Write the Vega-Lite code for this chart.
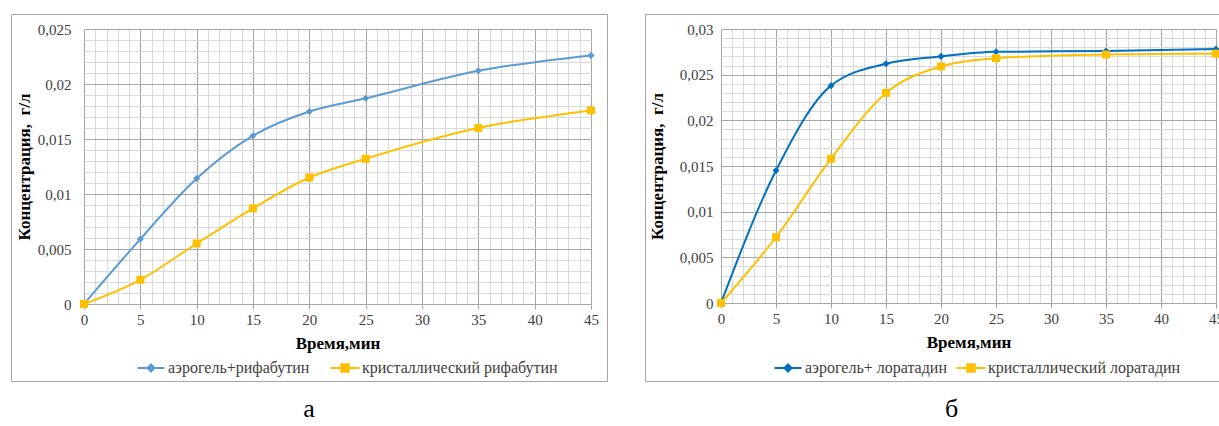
{
  "$schema": "https://vega.github.io/schema/vega-lite/v6.json",
  "padding": {"left": 10, "top": 13, "right": 0, "bottom": 0},
  "background": "white",
  "spacing": 36,
  "resolve": {"scale": {"color": "independent"}, "legend": {"color": "independent"}},
  "datasets": {
    "rif": [
      {"s": "аэрогель+рифабутин", "t": 0, "c": 0},
      {"s": "аэрогель+рифабутин", "t": 5, "c": 0.0059},
      {"s": "аэрогель+рифабутин", "t": 10, "c": 0.0114},
      {"s": "аэрогель+рифабутин", "t": 15, "c": 0.0153},
      {"s": "аэрогель+рифабутин", "t": 20, "c": 0.0175},
      {"s": "аэрогель+рифабутин", "t": 25, "c": 0.0187},
      {"s": "аэрогель+рифабутин", "t": 35, "c": 0.0212},
      {"s": "аэрогель+рифабутин", "t": 45, "c": 0.0226},
      {"s": "кристаллический рифабутин", "t": 0, "c": 0},
      {"s": "кристаллический рифабутин", "t": 5, "c": 0.0022},
      {"s": "кристаллический рифабутин", "t": 10, "c": 0.0055},
      {"s": "кристаллический рифабутин", "t": 15, "c": 0.0087},
      {"s": "кристаллический рифабутин", "t": 20, "c": 0.0115},
      {"s": "кристаллический рифабутин", "t": 25, "c": 0.0132},
      {"s": "кристаллический рифабутин", "t": 35, "c": 0.016},
      {"s": "кристаллический рифабутин", "t": 45, "c": 0.0176}
    ],
    "lor": [
      {"s": "аэрогель+ лоратадин", "t": 0, "c": 0},
      {"s": "аэрогель+ лоратадин", "t": 5, "c": 0.0145},
      {"s": "аэрогель+ лоратадин", "t": 10, "c": 0.0238},
      {"s": "аэрогель+ лоратадин", "t": 15, "c": 0.0262},
      {"s": "аэрогель+ лоратадин", "t": 20, "c": 0.027},
      {"s": "аэрогель+ лоратадин", "t": 25, "c": 0.0275},
      {"s": "аэрогель+ лоратадин", "t": 35, "c": 0.0276},
      {"s": "аэрогель+ лоратадин", "t": 45, "c": 0.0278},
      {"s": "кристаллический лоратадин", "t": 0, "c": 0},
      {"s": "кристаллический лоратадин", "t": 5, "c": 0.0072},
      {"s": "кристаллический лоратадин", "t": 10, "c": 0.0158},
      {"s": "кристаллический лоратадин", "t": 15, "c": 0.023},
      {"s": "кристаллический лоратадин", "t": 20, "c": 0.0259},
      {"s": "кристаллический лоратадин", "t": 25, "c": 0.0268},
      {"s": "кристаллический лоратадин", "t": 35, "c": 0.0272},
      {"s": "кристаллический лоратадин", "t": 45, "c": 0.0273}
    ]
  },
  "config": {
    "view": {"stroke": "#a6a6a6", "strokeWidth": 1, "fill": "white"},
    "font": "Liberation Serif",
    "axis": {
      "labelFont": "Liberation Serif",
      "titleFont": "Liberation Serif",
      "labelColor": "#404040",
      "labelFontSize": 15,
      "titleColor": "#000000",
      "titleFontSize": 17,
      "titleFontWeight": "bold",
      "labelFlush": false,
      "labelOverlap": false
    },
    "legend": {
      "orient": "none",
      "direction": "horizontal",
      "columns": 2,
      "title": null,
      "labelFont": "Liberation Serif",
      "labelFontSize": 16,
      "labelColor": "#404040",
      "labelOffset": 9,
      "labelLimit": 400,
      "symbolSize": 100,
      "symbolStrokeWidth": 2,
      "symbolOpacity": 1
    },
    "title": {
      "orient": "bottom",
      "offset": 15,
      "font": "Liberation Serif",
      "fontSize": 26,
      "fontWeight": "normal",
      "color": "#000000",
      "anchor": "middle"
    }
  },
  "hconcat": [
    {
      "width": 596,
      "height": 367,
      "title": {"text": "а"},
      "data": {"name": "rif"},
      "resolve": {"axis": {"x": "independent", "y": "independent"}},
      "layer": [
        {
          "mark": {"type": "line", "interpolate": "monotone", "strokeWidth": 2},
          "encoding": {
            "x": {
              "field": "t", "type": "quantitative",
              "scale": {"domain": [0, 45], "range": [73, 580], "nice": false, "zero": false},
              "axis": {
                "orient": "top", "offset": 0, "title": null,
                "values": [0,1,2,3,4,5,6,7,8,9,10,11,12,13,14,15,16,17,18,19,20,21,22,23,24,25,26,27,28,29,30,31,32,33,34,35,36,37,38,39,40,41,42,43,44,45],
                "grid": true, "labels": false, "ticks": false, "domain": false,
                "gridColor": {"condition": {"test": "datum.value % 5 === 0", "value": "#a6a6a6"}, "value": "#d9d9d9"},
                "gridWidth": 1
              }
            },
            "y": {
              "field": "c", "type": "quantitative",
              "scale": {"domain": [0, 0.025], "range": [290, 15], "nice": false},
              "axis": {
                "orient": "left", "offset": 0, "title": null,
                "values": [0,0.001,0.002,0.003,0.004,0.005,0.006,0.007,0.008,0.009,0.01,0.011,0.012,0.013,0.014,0.015,0.016,0.017,0.018,0.019,0.02,0.021,0.022,0.023,0.024,0.025],
                "grid": true, "labels": false, "ticks": false, "domain": false,
                "gridColor": {"condition": {"test": "round(datum.value * 1000) % 5 === 0", "value": "#a6a6a6"}, "value": "#d9d9d9"},
                "gridWidth": 1
              }
            },
            "color": {
              "field": "s", "type": "nominal",
              "scale": {"domain": ["аэрогель+рифабутин", "кристаллический рифабутин"], "range": ["#5b9bd5", "#ffc000"]},
              "legend": {
                "legendX": 132, "legendY": 346, "columnPadding": 16,
                "encode": {"symbols": {"update": {
                  "shape": {"signal": "datum.index === 0 ? 'M-2.7,0H2.7M0,-0.7L0.7,0L0,0.7L-0.7,0Z' : 'M-2.9,0H2.9M-0.75,-0.75H0.75V0.75H-0.75Z'"},
                  "fill": {"scale": "color", "field": "value"},
                  "stroke": {"scale": "color", "field": "value"}
                }}}
              }
            }
          }
        },
        {
          "transform": [{"filter": "datum.s === 'аэрогель+рифабутин'"}],
          "mark": {"type": "point", "shape": "diamond", "filled": true, "opacity": 1, "size": 50},
          "encoding": {
            "x": {
              "field": "t", "type": "quantitative",
              "axis": {
                "orient": "bottom", "offset": -77,
                "values": [0,5,10,15,20,25,30,35,40,45],
                "grid": false, "domain": true, "domainColor": "#a6a6a6",
                "ticks": true, "tickColor": "#a6a6a6", "tickSize": 5,
                "labelPadding": 3,
                "title": "Время,мин", "titlePadding": 8
              }
            },
            "y": {
              "field": "c", "type": "quantitative",
              "axis": {
                "orient": "left", "offset": -73,
                "values": [0, 0.005, 0.01, 0.015, 0.02, 0.025],
                "grid": false, "domain": false, "ticks": false,
                "labelPadding": 13,
                "labelExpr": "replace(toString(datum.value), '.', ',')",
                "title": "Концентрация,\u00a0 г/л", "titlePadding": 4
              }
            },
            "color": {
              "field": "s", "type": "nominal",
              "legend": {
                "legendX": 132, "legendY": 346, "columnPadding": 16,
                "encode": {"symbols": {"update": {
                  "shape": {"signal": "datum.index === 0 ? 'M-2.7,0H2.7M0,-0.7L0.7,0L0,0.7L-0.7,0Z' : 'M-2.9,0H2.9M-0.75,-0.75H0.75V0.75H-0.75Z'"},
                  "fill": {"scale": "color", "field": "value"},
                  "stroke": {"scale": "color", "field": "value"}
                }}}
              }
            }
          }
        },
        {
          "transform": [{"filter": "datum.s === 'кристаллический рифабутин'"}],
          "mark": {"type": "point", "shape": "square", "filled": true, "opacity": 1, "size": 64},
          "encoding": {
            "x": {"field": "t", "type": "quantitative", "axis": null},
            "y": {"field": "c", "type": "quantitative", "axis": null},
            "color": {
              "field": "s", "type": "nominal",
              "legend": {
                "legendX": 132, "legendY": 346, "columnPadding": 16,
                "encode": {"symbols": {"update": {
                  "shape": {"signal": "datum.index === 0 ? 'M-2.7,0H2.7M0,-0.7L0.7,0L0,0.7L-0.7,0Z' : 'M-2.9,0H2.9M-0.75,-0.75H0.75V0.75H-0.75Z'"},
                  "fill": {"scale": "color", "field": "value"},
                  "stroke": {"scale": "color", "field": "value"}
                }}}
              }
            }
          }
        }
      ]
    },
    {
      "width": 577,
      "height": 367,
      "title": {"text": "б", "dx": 18},
      "data": {"name": "lor"},
      "resolve": {"axis": {"x": "independent", "y": "independent"}},
      "layer": [
        {
          "mark": {"type": "line", "interpolate": "monotone", "strokeWidth": 2},
          "encoding": {
            "x": {
              "field": "t", "type": "quantitative",
              "scale": {"domain": [0, 45], "range": [76, 571], "nice": false, "zero": false},
              "axis": {
                "orient": "top", "offset": 0, "title": null,
                "values": [0,1,2,3,4,5,6,7,8,9,10,11,12,13,14,15,16,17,18,19,20,21,22,23,24,25,26,27,28,29,30,31,32,33,34,35,36,37,38,39,40,41,42,43,44,45],
                "grid": true, "labels": false, "ticks": false, "domain": false,
                "gridColor": {"condition": {"test": "datum.value % 5 === 0", "value": "#a6a6a6"}, "value": "#d9d9d9"},
                "gridWidth": 1
              }
            },
            "y": {
              "field": "c", "type": "quantitative",
              "scale": {"domain": [0, 0.03], "range": [289, 15], "nice": false},
              "axis": {
                "orient": "left", "offset": 0, "title": null,
                "values": [0,0.001,0.002,0.003,0.004,0.005,0.006,0.007,0.008,0.009,0.01,0.011,0.012,0.013,0.014,0.015,0.016,0.017,0.018,0.019,0.02,0.021,0.022,0.023,0.024,0.025,0.026,0.027,0.028,0.029,0.03],
                "grid": true, "labels": false, "ticks": false, "domain": false,
                "gridColor": {"condition": {"test": "round(datum.value * 1000) % 5 === 0", "value": "#a6a6a6"}, "value": "#d9d9d9"},
                "gridWidth": 1
              }
            },
            "color": {
              "field": "s", "type": "nominal",
              "scale": {"domain": ["аэрогель+ лоратадин", "кристаллический лоратадин"], "range": ["#0070c0", "#ffc000"]},
              "legend": {
                "legendX": 135, "legendY": 346, "columnPadding": 5,
                "encode": {"symbols": {"update": {
                  "shape": {"signal": "datum.index === 0 ? 'M-2.7,0H2.7M0,-0.7L0.7,0L0,0.7L-0.7,0Z' : 'M-2.9,0H2.9M-0.75,-0.75H0.75V0.75H-0.75Z'"},
                  "fill": {"scale": "color", "field": "value"},
                  "stroke": {"scale": "color", "field": "value"}
                }}}
              }
            }
          }
        },
        {
          "transform": [{"filter": "datum.s === 'аэрогель+ лоратадин'"}],
          "mark": {"type": "point", "shape": "diamond", "filled": true, "opacity": 1, "size": 50},
          "encoding": {
            "x": {
              "field": "t", "type": "quantitative",
              "axis": {
                "orient": "bottom", "offset": -78,
                "values": [0,5,10,15,20,25,30,35,40,45],
                "grid": false, "domain": true, "domainColor": "#a6a6a6",
                "ticks": true, "tickColor": "#a6a6a6", "tickSize": 5,
                "labelPadding": 3,
                "title": "Время,мин", "titlePadding": 8
              }
            },
            "y": {
              "field": "c", "type": "quantitative",
              "axis": {
                "orient": "left", "offset": -76,
                "values": [0, 0.005, 0.01, 0.015, 0.02, 0.025, 0.03],
                "grid": false, "domain": false, "ticks": false,
                "labelPadding": 8,
                "labelExpr": "replace(toString(datum.value), '.', ',')",
                "title": "Концентрация,\u00a0 г/л", "titlePadding": 13
              }
            },
            "color": {
              "field": "s", "type": "nominal",
              "legend": {
                "legendX": 135, "legendY": 346, "columnPadding": 5,
                "encode": {"symbols": {"update": {
                  "shape": {"signal": "datum.index === 0 ? 'M-2.7,0H2.7M0,-0.7L0.7,0L0,0.7L-0.7,0Z' : 'M-2.9,0H2.9M-0.75,-0.75H0.75V0.75H-0.75Z'"},
                  "fill": {"scale": "color", "field": "value"},
                  "stroke": {"scale": "color", "field": "value"}
                }}}
              }
            }
          }
        },
        {
          "transform": [{"filter": "datum.s === 'кристаллический лоратадин'"}],
          "mark": {"type": "point", "shape": "square", "filled": true, "opacity": 1, "size": 64},
          "encoding": {
            "x": {"field": "t", "type": "quantitative", "axis": null},
            "y": {"field": "c", "type": "quantitative", "axis": null},
            "color": {
              "field": "s", "type": "nominal",
              "legend": {
                "legendX": 135, "legendY": 346, "columnPadding": 5,
                "encode": {"symbols": {"update": {
                  "shape": {"signal": "datum.index === 0 ? 'M-2.7,0H2.7M0,-0.7L0.7,0L0,0.7L-0.7,0Z' : 'M-2.9,0H2.9M-0.75,-0.75H0.75V0.75H-0.75Z'"},
                  "fill": {"scale": "color", "field": "value"},
                  "stroke": {"scale": "color", "field": "value"}
                }}}
              }
            }
          }
        }
      ]
    }
  ]
}
